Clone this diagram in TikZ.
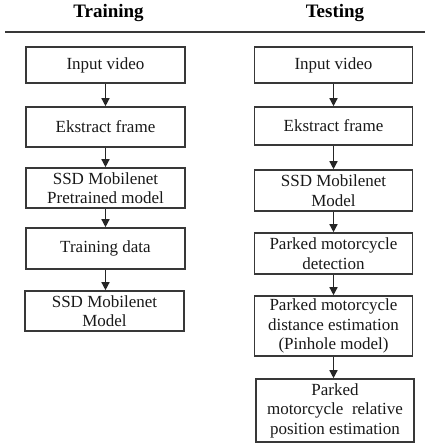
\documentclass[tikz,border=0pt]{standalone}
\usepackage{fontspec}
\setmainfont{Liberation Serif}
\usetikzlibrary{arrows.meta}
\begin{document}
\begin{tikzpicture}[x=1pt,y=-1pt,
  stepbox/.style={draw=black!78,line width=1.6pt,align=center,inner sep=1pt,
    font=\fontsize{17}{19.5}\selectfont,text=black!90},
  head/.style={font=\fontsize{19}{22}\selectfont\bfseries},
  flow/.style={draw=black!85,line width=1.4pt,-{Triangle[length=8pt,width=8pt]}}]
\useasboundingbox (0,0) rectangle (425,446);
\node[head] (tr) at (108.5,13) {Training};
\node[head] (te) at (335,13) {Testing};
\coordinate (h1) at (5,32);
\coordinate (h2) at (425,32);
\draw[line width=1.4pt,black!78] (h1) -- (h2);
% left
\node[stepbox,minimum width=159pt,minimum height=36pt] (l1) at (105.5,65) {Input video};
\node[stepbox,minimum width=159pt,minimum height=40pt] (l2) at (105.5,127) {Ekstract frame};
\node[stepbox,minimum width=159pt,minimum height=40pt] (l3) at (105.5,188) {SSD Mobilenet\\Pretrained model};
\node[stepbox,minimum width=159pt,minimum height=41pt] (l4) at (105.5,248.5) {Training data};
\node[stepbox,minimum width=159pt,minimum height=40pt] (l5) at (104.5,311) {SSD Mobilenet\\Model};
% right
\node[stepbox,minimum width=158pt,minimum height=36pt] (r1) at (333.5,65) {Input video};
\node[stepbox,minimum width=158pt,minimum height=38pt] (r2) at (333.5,126) {Ekstract frame};
\node[stepbox,minimum width=158pt,minimum height=41pt] (r3) at (333.5,190.5) {SSD Mobilenet\\Model};
\node[stepbox,minimum width=158pt,minimum height=41pt] (r4) at (333.5,253.5) {Parked motorcycle\\detection};
\node[stepbox,minimum width=158pt,minimum height=60pt] (r5) at (333.5,326) {Parked motorcycle\\distance estimation\\(Pinhole model)};
\node[stepbox,minimum width=158pt,minimum height=63pt] (r6) at (335,410.5) {Parked\\motorcycle\ \ relative\\position estimation};
% arrows
\draw[flow] (l1.south) -- (l2.north);
\draw[flow] (l2.south) -- (l3.north);
\draw[flow] (l3.south) -- (l4.north);
\draw[flow] (l4.south) -- (l4.south |- l5.north);
\draw[flow] (r1.south) -- (r2.north);
\draw[flow] (r2.south) -- (r3.north);
\draw[flow] (r3.south) -- (r4.north);
\draw[flow] (r4.south) -- (r5.north);
\draw[flow] (r5.south) -- (r5.south |- r6.north);
\end{tikzpicture}
\end{document}
